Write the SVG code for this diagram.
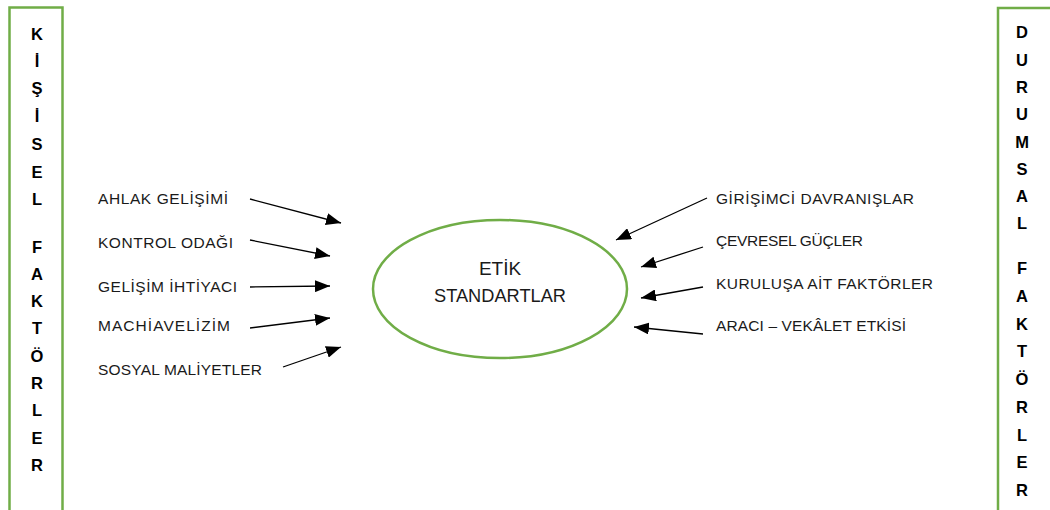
<svg xmlns="http://www.w3.org/2000/svg" width="1050" height="510" viewBox="0 0 1050 510">
<defs>
<marker id="ah" markerUnits="userSpaceOnUse" markerWidth="16" markerHeight="12" refX="15" refY="6" orient="auto">
<path d="M0,0 L15,6 L0,12 Z" fill="#000"/>
</marker>
<style>
.box{fill:none;stroke:#70AD47;stroke-width:2.5}
.vl{font-family:"Liberation Sans",Arial,sans-serif;font-weight:bold;font-size:16.5px;fill:#000;text-anchor:middle}
.lb{font-family:"Liberation Sans",Arial,sans-serif;font-size:15.5px;fill:#1a1a1a}
.ct{font-family:"Liberation Sans",Arial,sans-serif;font-size:19px;fill:#1a1a1a;text-anchor:middle}
.ar{stroke:#000;stroke-width:1.3;fill:none;marker-end:url(#ah)}
</style>
</defs>
<rect width="1050" height="510" fill="#fff"/>

<g id="kisisel-faktorler">
<rect class="box" x="9.5" y="7.5" width="53" height="520"/>
<text class="vl" x="37" y="40">K</text>
<text class="vl" x="37" y="67">İ</text>
<text class="vl" x="37" y="94">Ş</text>
<text class="vl" x="37" y="122">İ</text>
<text class="vl" x="37" y="150">S</text>
<text class="vl" x="37" y="178">E</text>
<text class="vl" x="37" y="205">L</text>
<text class="vl" x="37" y="253">F</text>
<text class="vl" x="37" y="280">A</text>
<text class="vl" x="37" y="307">K</text>
<text class="vl" x="37" y="334">T</text>
<text class="vl" x="37" y="362">Ö</text>
<text class="vl" x="37" y="389">R</text>
<text class="vl" x="37" y="416">L</text>
<text class="vl" x="37" y="444">E</text>
<text class="vl" x="37" y="471">R</text>
</g>

<g id="durumsal-faktorler">
<rect class="box" x="998" y="8" width="80" height="520"/>
<text class="vl" x="1022" y="38">D</text>
<text class="vl" x="1022" y="66">U</text>
<text class="vl" x="1022" y="93">R</text>
<text class="vl" x="1022" y="120">U</text>
<text class="vl" x="1022" y="148">M</text>
<text class="vl" x="1022" y="175">S</text>
<text class="vl" x="1022" y="202">A</text>
<text class="vl" x="1022" y="229">L</text>
<text class="vl" x="1022" y="274">F</text>
<text class="vl" x="1022" y="302">A</text>
<text class="vl" x="1022" y="330">K</text>
<text class="vl" x="1022" y="357">T</text>
<text class="vl" x="1022" y="385">Ö</text>
<text class="vl" x="1022" y="413">R</text>
<text class="vl" x="1022" y="441">L</text>
<text class="vl" x="1022" y="468">E</text>
<text class="vl" x="1022" y="496">R</text>
</g>

<g id="etik-standartlar">
<ellipse cx="500" cy="289" rx="127" ry="69" fill="none" stroke="#70AD47" stroke-width="2.5"/>
<text class="ct" x="500" y="275">ETİK</text>
<text class="ct" x="500" y="302" textLength="132" lengthAdjust="spacingAndGlyphs">STANDARTLAR</text>
</g>

<g id="label-ahlak"><text class="lb" x="98" y="203.5" textLength="130">AHLAK GELİŞİMİ</text></g>
<g id="label-kontrol"><text class="lb" x="98" y="247.5" textLength="135">KONTROL ODAĞI</text></g>
<g id="label-gelisim"><text class="lb" x="98" y="292" textLength="139">GELİŞİM İHTİYACI</text></g>
<g id="label-machiavelizim"><text class="lb" x="98" y="331" textLength="132">MACHİAVELİZİM</text></g>
<g id="label-sosyal"><text class="lb" x="98" y="375" textLength="164">SOSYAL MALİYETLER</text></g>

<g id="label-girisimci"><text class="lb" x="716" y="203.5" textLength="198">GİRİŞİMCİ DAVRANIŞLAR</text></g>
<g id="label-cevresel"><text class="lb" x="716" y="245.5" textLength="147">ÇEVRESEL GÜÇLER</text></g>
<g id="label-kurulusa"><text class="lb" x="716" y="288.5" textLength="217">KURULUŞA AİT FAKTÖRLER</text></g>
<g id="label-araci"><text class="lb" x="716" y="331" textLength="190">ARACI – VEKÂLET ETKİSİ</text></g>

<g id="connectors">
<line class="ar" x1="250" y1="199" x2="341" y2="223"/>
<line class="ar" x1="250" y1="240" x2="330" y2="256"/>
<line class="ar" x1="250" y1="287" x2="330" y2="286"/>
<line class="ar" x1="250" y1="328" x2="330" y2="318"/>
<line class="ar" x1="283" y1="367" x2="341" y2="347"/>
<line class="ar" x1="707" y1="198" x2="616" y2="240"/>
<line class="ar" x1="703" y1="247" x2="641" y2="267"/>
<line class="ar" x1="703" y1="287" x2="641" y2="298"/>
<line class="ar" x1="703" y1="334" x2="634" y2="327"/>
</g>
</svg>
